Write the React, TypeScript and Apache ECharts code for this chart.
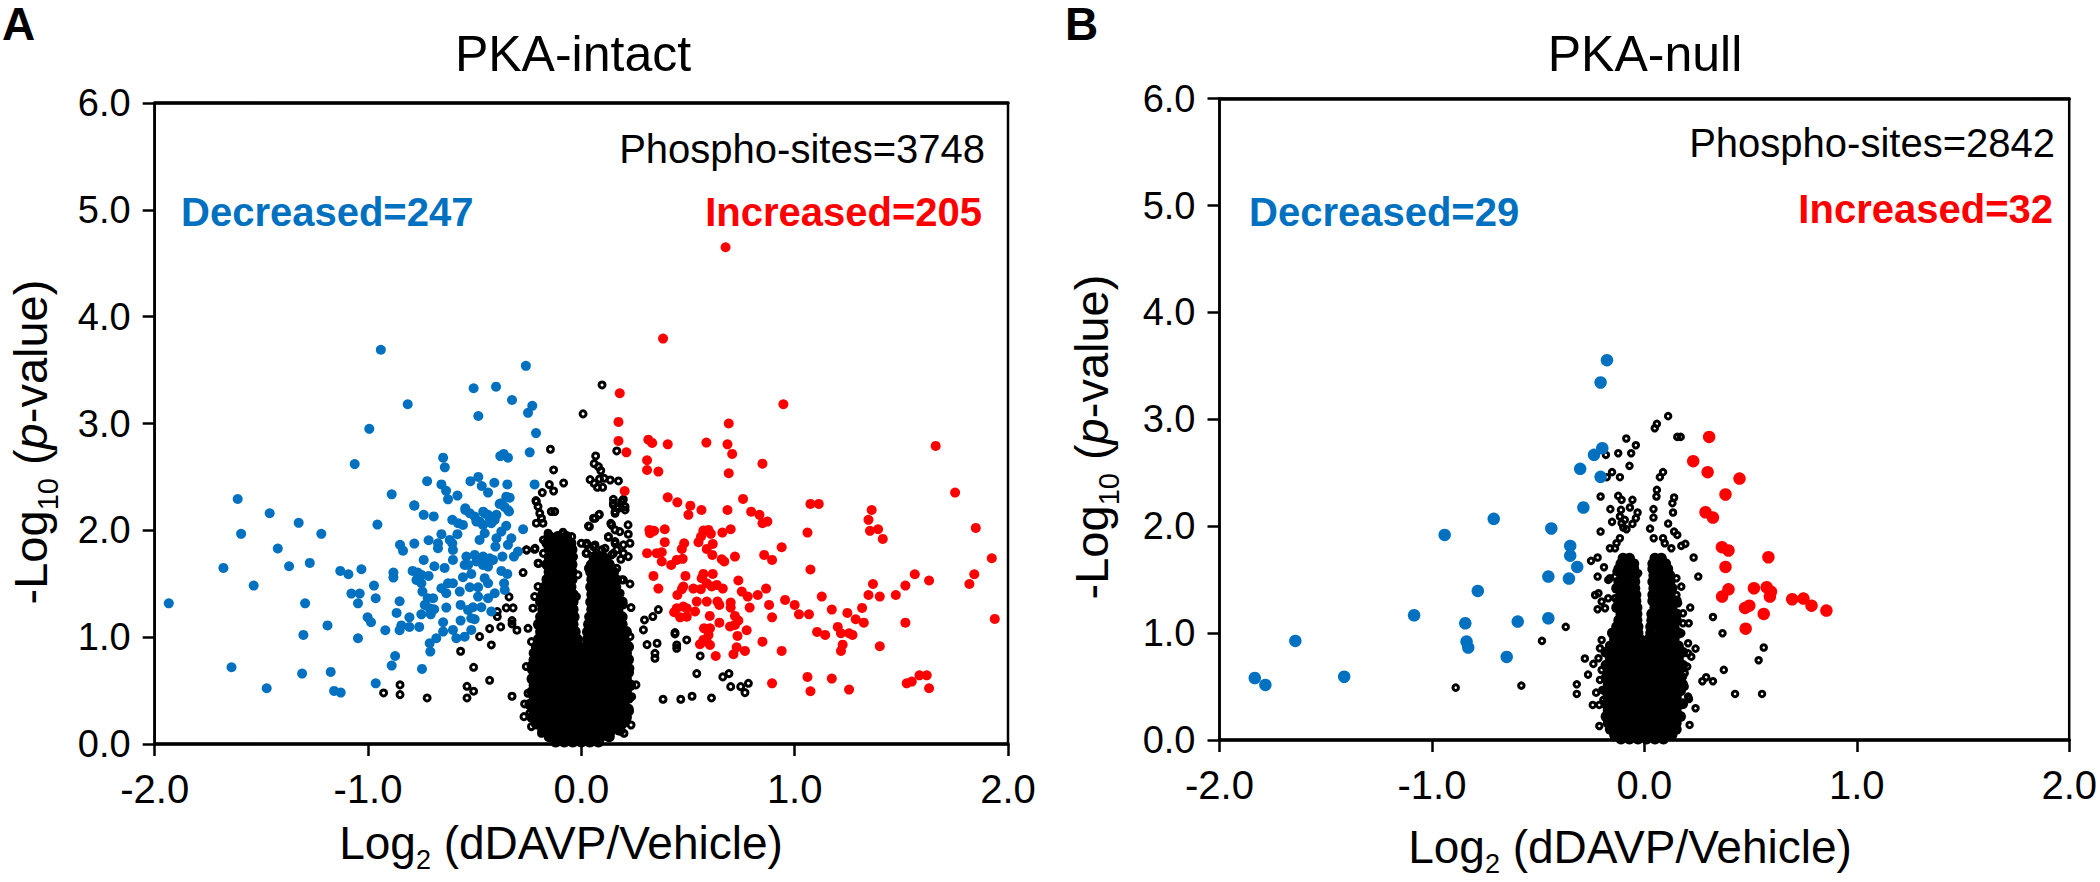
import React, { useEffect, useRef } from "react";
import * as echarts from "echarts";

const FONT = '"Liberation Sans", Arial, sans-serif';
const BLUE = "#0070C0";
const RED = "#FF0000";

const decreasedA: number[][] = [
[-0.94,3.69],[-0.26,3.54],[-0.505,3.33],[-0.4,3.345],[-0.325,3.22],[-0.23,3.165],[-0.25,3.1],[-0.483,3.07],[-0.814,3.18],[-0.994,2.95],[-1.0625,2.62],[-0.2125,2.91],[-0.242,2.73],[-0.364,2.715],[-0.38,2.695],[-0.344,2.68],[-0.648,2.68],[-0.64,2.59],[-0.723,2.46],[-0.483,2.5],[-0.52,2.46],[-0.467,2.415],[-0.408,2.445],[-0.347,2.43],[-0.219,2.43],[-0.656,2.43],[-0.634,2.37],[-0.581,2.325],[-0.625,2.29],[-0.4375,2.353],[-0.889,2.337],[-1.611,2.293],[-0.783,2.23],[-0.544,2.206],[-0.352,2.315],[-0.336,2.306],[-0.383,2.247],[-0.36,2.22],[-0.344,2.19],[-0.46,2.175],[-1.461,2.16],
[-1.325,2.07],[-1.595,1.967],[-1.219,1.967],[-0.956,2.054],[-1.423,1.83],[-1.678,1.648],[-1.37,1.664],[-1.273,1.695],[-1.536,1.483],[-1.934,1.317],[-1.295,1.317],[-1.303,1.021],[-1.19,1.11],[-1.64,0.718],[-1.475,0.522],[-1.309,0.659],[-1.175,0.675],[-1.159,0.497],[-1.128,0.481],[-0.964,0.568],[-0.889,0.734],[-0.873,0.824],[-0.747,0.703],[-1.047,0.99],[-0.919,1.065],[-1.13,1.62],[-1.092,1.589],[-1.031,1.636],[-0.972,1.483],[-0.964,1.364],[-1.078,1.408],[-1.039,1.408],[-1.047,1.317],[-1.002,1.186],[-0.986,1.14],[-0.852,1.336],[-0.866,1.227],[-0.806,1.186],[-0.844,1.11],[-0.852,1.065],[-0.806,1.096],[-0.76,1.096],[-0.881,1.605],[-0.881,1.558],[-0.85,1.864],[-0.836,1.81],[-0.783,1.876],[-0.739,2.145],[-0.692,2.13],[-0.783,2.235],[-0.739,1.723],[-0.791,1.62],[-0.767,1.605],[-0.75,1.583],[-0.773,1.536],[-0.75,1.505],[-0.716,1.573],[-0.745,1.427],[-0.72,1.364],[-0.695,1.364],[-0.734,1.302],[-0.711,1.271],[-0.75,1.214],[-0.706,1.214],[-0.69,1.261],[-0.689,1.664],[-0.641,1.648],[-0.716,1.907],[-0.672,1.879],[-0.656,1.964],[-0.672,1.832],[-0.605,1.879],[-0.617,1.91],[-0.581,1.964],[-0.602,1.817],[-0.605,2.098],[-0.578,2.067],[-0.555,2.051],[-0.544,2.191],[-0.523,2.16],
[-0.5,2.129],[-0.477,2.082],[-0.453,2.16],[-0.43,2.113],[-0.406,2.098],[-0.461,2.051],[-0.4375,2.145],[-0.492,2.082],[-0.453,1.973],[-0.477,1.91],[-0.398,2.145],[-0.422,2.066],[-0.375,2.254],[-0.339,2.176],[-0.352,2.042],[-0.375,1.988],[-0.398,1.926],[-0.328,1.926],[-0.344,1.864],[-0.403,1.848],[-0.273,2.01],[-0.297,1.801],[-0.316,1.754],[-0.37,1.754],
[-0.5,1.77],[-0.461,1.754],[-0.43,1.739],[-0.461,1.676],[-0.492,1.708],[-0.4375,1.661],[-0.414,1.723],[-0.539,1.754],[-0.547,1.676],[-0.602,1.723],[-0.531,1.676],[-0.375,1.62],[-0.347,1.592],[-0.362,1.505],[-0.359,1.442],[-0.516,1.592],[-0.555,1.561],[-0.453,1.552],[-0.4375,1.505],[-0.523,1.467],[-0.484,1.467],[-0.625,1.505],[-0.656,1.458],[-0.602,1.505],[-0.57,1.427],[-0.633,1.411],[-0.484,1.38],[-0.4375,1.364],[-0.406,1.411],[-0.566,1.302],[-0.633,1.277],[-0.531,1.255],[-0.508,1.28],[-0.469,1.28],[-0.422,1.24],[-0.566,1.155],[-0.516,1.177],[-0.5,1.168],[-0.648,1.14],[-0.648,1.052],[-0.602,1.068],[-0.586,0.99],[-0.547,1.005],[-0.516,1.068],[-0.711,0.943],[-0.68,0.99],[-0.708,0.865],
];

const increasedA: number[][] = [
[0.676,4.65],[0.383,3.795],[0.18,3.283],[0.947,3.18],[0.174,3.015],[0.691,3.0],[0.174,2.837],[0.314,2.849],[0.332,2.818],[0.405,2.805],[0.586,2.821],[0.685,2.805],[0.707,2.715],[0.211,2.73],[1.661,2.79],[0.308,2.656],[0.308,2.565],[0.361,2.55],[0.849,2.624],[0.691,2.534],[0.203,2.368],[0.405,2.309],[0.45,2.262],[0.511,2.231],[0.563,2.19],[0.685,2.19],[0.758,2.294],[1.074,2.247],[1.113,2.247],[1.361,2.19],[1.752,2.353],[0.796,2.175],
[0.502,2.145],[0.835,2.145],[0.872,2.082],[0.849,2.067],[1.346,2.098],[1.353,1.995],[1.391,2.01],[1.413,1.92],[1.06,1.979],[1.849,2.023],[1.924,1.739],[0.322,1.973],[0.341,1.995],[0.319,2.004],[0.391,2.01],[0.391,1.889],[0.482,1.879],[0.471,1.826],[0.308,1.786],[0.353,1.786],[0.377,1.795],[0.377,1.708],[0.421,1.676],[0.447,1.723],[0.475,1.733],[0.572,1.998],[0.596,2.004],[0.607,1.967],[0.561,1.942],[0.549,1.889],[0.661,1.979],[0.7,2.01],[0.616,1.873],[0.588,1.826],[0.614,1.77],[0.658,1.729],[0.67,1.708],[0.72,1.754],[0.857,1.77],[0.894,1.723],[0.939,1.842],[1.074,1.633],[0.338,1.573],[0.361,1.455],[0.488,1.573],[0.572,1.592],[0.564,1.552],[0.616,1.592],[0.478,1.474],[0.471,1.449],[0.525,1.455],[0.56,1.449],[0.588,1.505],[0.611,1.474],[0.635,1.489],[0.663,1.455],[0.45,1.395],[0.736,1.53],[0.752,1.427],[0.78,1.38],[0.827,1.395],[0.866,1.455],[0.541,1.333],[0.588,1.333],[0.638,1.333],[0.647,1.302],[0.7,1.324],[0.7,1.277],[0.88,1.302],[0.789,1.277],[0.447,1.271],[0.435,1.233],[0.478,1.286],[0.494,1.271],[0.463,1.186],[0.494,1.192],[0.533,1.24],[0.602,1.199],[0.647,1.136],[0.894,1.186],[0.72,1.199],[0.736,1.155],[0.72,1.115],[0.697,1.1],[0.575,1.083],[0.603,1.083],[0.596,1.021],[0.775,1.065],[0.732,1.012],[0.849,0.958],[0.572,0.974],[0.556,0.934],[0.603,0.927],[0.588,0.958],[0.63,0.824],[0.713,0.84],[0.728,0.905],[0.767,0.871],[0.939,0.871],[0.955,1.349],[1.0,1.302],[1.02,1.214],[1.067,1.214],[1.127,1.38],[1.174,1.258],[1.247,1.227],[1.286,1.168],[1.324,1.136],[1.316,1.274],[1.346,1.395],[1.399,1.38],[1.367,1.498],[1.474,1.395],[1.519,1.483],[1.563,1.589],[1.63,1.53],[1.819,1.498],[1.842,1.589],[1.938,1.171],[1.519,1.136],[1.105,1.049],[1.143,1.021],[1.202,1.096],[1.217,1.037],[1.255,1.037],[1.271,1.021],[1.225,0.93],[1.217,0.871],[1.399,0.915],[0.894,0.568],[1.06,0.628],[1.174,0.612],[1.074,0.494],[1.255,0.509],[1.525,0.568],[1.549,0.584],[1.585,0.643],[1.619,0.643],[1.63,0.522],
];

const ringsA: number[][] = [
[-0.927,0.478],[-0.85,0.553],[-0.85,0.462],[-0.723,0.431],[-0.536,0.54],[-0.505,0.494],[-0.536,0.431],[-0.43,0.596],[-0.505,0.718],[-0.566,0.868],[-0.325,0.447],[-0.477,1.005],[-0.422,0.927],[-0.43,1.08],[-0.378,1.096],[-0.302,1.065],[-0.325,1.155],[-0.325,1.124],[-0.339,1.377],[-0.352,1.274],[-0.32,1.274],[-0.394,1.24],[-0.394,1.193],[-0.273,1.605],[-0.258,1.817],[-0.219,1.823],[-0.211,2.067],[-0.18,2.067],[-0.187,2.113],[-0.195,2.16],[-0.203,2.223],[-0.211,2.27],[-0.141,2.176],[-0.125,2.176],[-0.145,2.759],[-0.13,2.565],[-0.083,2.443],[-0.15,2.428],[-0.13,2.368],[-0.183,2.353],[-0.213,2.278],[0.008,3.09],[0.097,3.361],[0.166,2.743],[0.067,2.696],[0.06,2.624],[0.08,2.596],[0.091,2.559],[0.041,2.475],[0.06,2.44],[0.075,2.403],[0.1,2.403],[0.085,2.481],[0.107,2.487],[0.135,2.471],[0.174,2.462],[0.15,2.29],[0.197,2.29],[0.15,2.237],[0.205,2.222],[0.166,2.215],[0.083,2.145],[0.057,2.113],[0.038,2.035],[0.158,2.16],[0.205,2.191],[0.15,2.254],[0.19,2.27],[0.138,2.066],[0.219,2.051],[0.18,1.988],[0.158,2.004],[0.22,1.964],[0.127,1.935],[0.228,1.879],[0.197,1.864],[0.158,1.895],[0.166,1.817],[0.197,1.786],[0.22,1.754],[0.185,1.729],[0.142,1.77],[0.228,1.498],[0.233,1.277],[0.228,0.709],[0.256,0.553],[0.236,0.443],[0.224,0.334],[0.233,0.178],[0.2,0.1],[0.197,1.037],[0.228,1.005],[0.213,0.943],[0.189,1.536],[0.166,1.645],[0.182,1.411],[0.197,1.302],[0.189,0.787],[0.197,0.693],[0.361,1.258],[0.335,1.193],[0.296,1.161],[0.291,1.068],[0.308,0.93],[0.355,0.943],[0.345,0.849],[0.345,0.802],[0.439,1.043],[0.439,1.03],[0.447,0.927],[0.447,0.896],[0.494,0.974],[0.557,0.824],[0.541,0.659],[0.663,0.628],[0.692,0.659],[0.7,0.537],[0.747,0.537],[0.783,0.568],[0.767,0.481],[0.383,0.419],[0.466,0.419],[0.519,0.447],[0.61,0.431],
[-0.155,1.957],[-0.084,1.972],[-0.045,1.941],[-0.178,1.91],[-0.116,1.879],[-0.053,1.894],[-0.178,1.785],[-0.116,1.77],[-0.061,1.785],[-0.2,1.691],[-0.139,1.676],[-0.037,1.754],[-0.084,1.676],[-0.256,1.816],[-0.217,1.832],[0.025,1.863],[0.064,1.863],[0.158,1.879],[0.022,1.785],[0.072,1.785],[0.111,1.832],[0.15,1.785],[0.088,1.691],[0.041,1.676],[0.127,1.941],[0.142,2.05],[0.033,2.04],[0.064,2.113],[0.084,2.15],[0.173,2.206],[0.158,2.175],
[-0.25,1.083],[-0.234,0.958],[-0.258,0.725],[-0.227,0.787],[-0.25,0.475],[-0.266,0.375],[-0.269,0.256],[-0.234,0.163],[-0.187,0.1],[-0.219,1.38],[-0.227,1.271],[-0.203,1.692],[-0.203,1.474],[-0.234,0.693],[-0.219,0.6],[-0.19,0.584],[-0.242,0.288],[-0.156,1.973],[-0.086,1.982],[-0.0625,1.801],[-0.039,1.754],[-0.039,1.333],[0.0,1.879],[-0.016,1.583],[-0.055,1.567],[-0.023,1.38],[0.025,1.879],[0.057,1.848],[0.096,1.817],[0.025,1.786],[0.072,1.754],[0.119,1.723],[0.033,1.645],[0.088,1.614],[0.15,1.583],[0.197,1.536],
];

// [y, x, x, ...]: the part of the cloud where rings overlap into solid black
const coreRowsA: number[][] = [
[1.94,-0.15,-0.11,-0.07],[1.88,-0.16,-0.12,-0.08,-0.05],[1.82,-0.15,-0.11,-0.07,-0.045],[1.75,-0.15,-0.11,-0.07,-0.045,0.06,0.1],[1.68,-0.16,-0.12,-0.08,-0.045,0.05,0.09,0.13],[1.61,-0.15,-0.11,-0.07,-0.045,0.045,0.08,0.12,0.15],[1.54,-0.16,-0.12,-0.08,-0.045,0.05,0.09,0.13,0.16],[1.47,-0.17,-0.13,-0.09,-0.05,0.045,0.08,0.12,0.16],[1.4,-0.18,-0.14,-0.1,-0.06,-0.04,0.05,0.09,0.13,0.17],[1.33,-0.19,-0.15,-0.11,-0.07,-0.04,0.045,0.08,0.12,0.16,0.19],[1.26,-0.18,-0.14,-0.1,-0.06,-0.04,0.05,0.09,0.13,0.17],[1.19,-0.19,-0.15,-0.11,-0.07,-0.035,0.04,0.08,0.12,0.16,0.19],[1.12,-0.2,-0.16,-0.12,-0.08,-0.04,0.035,0.07,0.11,0.15,0.19],[1.05,-0.19,-0.15,-0.11,-0.07,-0.03,0.03,0.06,0.1,0.14,0.18,0.21],[0.98,-0.2,-0.16,-0.12,-0.08,-0.04,-0.02,0.03,0.05,0.09,0.13,0.17,0.2],
[0.91,-0.21,-0.17,-0.13,-0.09,-0.05,-0.01,0.03,0.07,0.11,0.15,0.19,0.22],[0.85,-0.22,-0.18,-0.14,-0.1,-0.06,-0.02,0.02,0.06,0.1,0.14,0.18,0.21],[0.79,-0.21,-0.17,-0.13,-0.09,-0.05,-0.01,0.03,0.07,0.11,0.15,0.19,0.22],[0.73,-0.23,-0.19,-0.15,-0.11,-0.07,-0.03,0.01,0.05,0.09,0.13,0.17,0.21],[0.67,-0.22,-0.18,-0.14,-0.1,-0.06,-0.02,0.02,0.06,0.1,0.14,0.18,0.22],[0.61,-0.23,-0.19,-0.15,-0.11,-0.07,-0.03,0.01,0.05,0.09,0.13,0.17,0.21],[0.55,-0.22,-0.18,-0.14,-0.1,-0.06,-0.02,0.02,0.06,0.1,0.14,0.18,0.23],[0.49,-0.23,-0.19,-0.15,-0.11,-0.07,-0.03,0.01,0.05,0.09,0.13,0.17,0.21],[0.43,-0.22,-0.18,-0.14,-0.1,-0.06,-0.02,0.02,0.06,0.1,0.14,0.18,0.22],[0.37,-0.24,-0.2,-0.16,-0.12,-0.08,-0.04,0.0,0.04,0.08,0.12,0.16,0.2],[0.31,-0.22,-0.18,-0.14,-0.1,-0.06,-0.02,0.02,0.06,0.1,0.14,0.18,0.22],[0.25,-0.23,-0.19,-0.15,-0.11,-0.07,-0.03,0.01,0.05,0.09,0.13,0.17,0.21],[0.19,-0.21,-0.17,-0.13,-0.09,-0.05,-0.01,0.03,0.07,0.11,0.15,0.19],[0.13,-0.18,-0.14,-0.1,-0.06,-0.02,0.02,0.06,0.1,0.14,0.18],[0.07,-0.15,-0.11,-0.07,-0.03,0.01,0.05,0.09,0.13],[0.02,-0.12,-0.08,-0.04,0.0,0.04,0.08],
];

const decreasedB: number[][] = [
[-0.176,3.554],[-0.206,3.345],[-0.198,2.73],[-0.237,2.668],[-0.302,2.537],[-0.206,2.462],[-0.287,2.175],[-0.709,2.069],[-0.94,1.919],[-0.438,1.979],[-0.349,1.816],[-0.349,1.725],[-0.316,1.619],[-0.452,1.529],[-0.355,1.51],[-0.784,1.395],[-1.084,1.167],[-0.843,1.092],[-0.596,1.108],[-0.452,1.139],[-0.837,0.921],[-0.829,0.865],[-0.648,0.777],[-1.643,0.927],[-1.834,0.58],[-1.784,0.515],[-1.413,0.592],
];

const increasedB: number[][] = [
[0.305,2.836],[0.23,2.609],[0.298,2.506],[0.448,2.446],[0.382,2.297],[0.288,2.131],[0.323,2.081],[0.365,1.804],[0.396,1.773],[0.382,1.619],[0.584,1.71],[0.396,1.41],[0.366,1.342],[0.516,1.42],[0.576,1.429],[0.596,1.388],[0.591,1.342],[0.696,1.317],[0.749,1.323],[0.787,1.257],[0.857,1.211],[0.494,1.257],[0.474,1.236],[0.562,1.18],[0.477,1.042],
];

const ringsB: number[][] = [
[0.112,3.03],[0.059,2.958],[0.049,2.917],[0.155,2.836],[0.171,2.836],[-0.085,2.821],[-0.04,2.758],[-0.123,2.683],[-0.181,2.668],[-0.062,2.683],[-0.07,2.565],[-0.152,2.506],[-0.115,2.459],[-0.177,2.459],[0.088,2.506],[0.073,2.459],[0.059,2.34],[0.057,2.278],[0.14,2.269],[0.132,2.216],[0.135,2.128],[0.043,2.16],[0.043,2.081],[0.112,2.025],[0.027,1.978],[0.14,1.95],[0.155,1.919],[-0.206,2.278],[-0.123,2.284],[-0.107,2.247],[-0.056,2.247],[-0.16,2.16],[-0.11,2.153],[-0.068,2.175],[-0.032,2.128],[-0.115,2.091],[-0.092,2.06],[-0.04,2.075],[-0.152,2.041],[-0.107,2.028],[-0.056,2.022],[-0.099,1.988],[-0.084,1.972],[-0.206,1.95],[-0.115,1.888],[-0.131,1.841],[-0.162,1.794],[-0.138,1.794],[0.044,1.888],[0.088,1.888],[0.096,1.841],[0.127,1.794],[0.174,1.816],[0.193,1.835],
[0.232,1.707],[0.254,1.529],[-0.22,1.707],[-0.251,1.676],[-0.19,1.616],[-0.22,1.529],[-0.162,1.513],[-0.138,1.529],[-0.216,1.373],[-0.232,1.357],[-0.17,1.326],[-0.201,1.295],[-0.22,1.223],[-0.185,1.233],[0.216,1.239],[0.209,1.092],[0.323,1.151],[0.368,0.999],[-0.37,1.058],[-0.482,0.927],[0.562,0.865],[0.538,0.746],[0.374,0.656],[0.241,0.855],[0.221,0.78],[0.202,0.687],[0.19,0.624],[-0.28,0.762],[-0.24,0.712],[-0.265,0.612],[0.291,0.587],[0.273,0.55],[0.323,0.55],[-0.888,0.49],[-0.579,0.509],[-0.318,0.521],[-0.318,0.431],[-0.227,0.443],[-0.243,0.328],[-0.212,0.328],[0.21,0.384],[0.241,0.297],[0.427,0.431],[0.554,0.431],[-0.212,0.131],[0.213,0.141],
[-0.201,0.936],[-0.209,0.858],[-0.216,0.765],[-0.201,0.655],[-0.209,0.562],[-0.198,0.468],[-0.193,0.375],[0.206,0.406],[0.19,0.5],[0.182,0.593],[0.182,0.687],[0.206,0.811],[0.206,0.905],[0.174,0.999],[0.182,1.092],[0.182,1.186],[0.159,1.279],[0.151,1.357],[0.174,1.435],[0.151,1.513],[-0.131,1.576],[-0.17,1.498],[-0.138,1.326],[-0.029,1.56],
];

const coreRowsB: number[][] = [
[1.7,-0.1,-0.07,0.05,0.08],[1.65,-0.11,-0.07,-0.05,0.04,0.07,0.1],[1.6,-0.12,-0.08,-0.05,0.04,0.08,0.11],[1.54,-0.1,-0.07,-0.045,0.045,0.09,0.12],[1.48,-0.12,-0.08,-0.045,0.04,0.08,0.12],[1.42,-0.13,-0.09,-0.045,0.045,0.09,0.13],[1.36,-0.11,-0.07,-0.04,0.04,0.08,0.12],[1.3,-0.12,-0.08,-0.04,0.04,0.07,0.11,0.15],[1.24,-0.13,-0.09,-0.05,-0.035,0.05,0.09,0.13],[1.18,-0.11,-0.07,-0.035,0.035,0.07,0.11,0.15],[1.12,-0.12,-0.08,-0.035,0.035,0.08,0.12,0.15],[1.06,-0.13,-0.09,-0.05,-0.03,0.03,0.07,0.11,0.14],[1.0,-0.15,-0.11,-0.07,-0.03,0.03,0.08,0.12,0.16],[0.94,-0.14,-0.1,-0.06,-0.02,0.02,0.06,0.1,0.14],
[0.88,-0.16,-0.12,-0.08,-0.04,0.0,0.04,0.08,0.12,0.16],[0.82,-0.18,-0.14,-0.1,-0.06,-0.02,0.02,0.06,0.1,0.14,0.18],[0.76,-0.16,-0.12,-0.08,-0.04,0.0,0.04,0.08,0.12,0.16],[0.7,-0.18,-0.14,-0.1,-0.06,-0.02,0.02,0.06,0.1,0.14,0.18],[0.64,-0.17,-0.13,-0.09,-0.05,-0.01,0.03,0.07,0.11,0.15],[0.58,-0.18,-0.14,-0.1,-0.06,-0.02,0.02,0.06,0.1,0.14,0.17],[0.52,-0.17,-0.13,-0.09,-0.05,-0.01,0.03,0.07,0.11,0.15,0.18],[0.46,-0.18,-0.14,-0.1,-0.06,-0.02,0.02,0.06,0.1,0.14,0.17],[0.4,-0.17,-0.13,-0.09,-0.05,-0.01,0.03,0.07,0.11,0.15],[0.34,-0.18,-0.14,-0.1,-0.06,-0.02,0.02,0.06,0.1,0.14,0.18],[0.28,-0.17,-0.13,-0.09,-0.05,-0.01,0.03,0.07,0.11,0.15],[0.22,-0.18,-0.14,-0.1,-0.06,-0.02,0.02,0.06,0.1,0.14,0.17],[0.16,-0.17,-0.13,-0.09,-0.05,-0.01,0.03,0.07,0.11,0.15],[0.1,-0.16,-0.12,-0.08,-0.04,0.0,0.04,0.08,0.12,0.15],[0.05,-0.14,-0.1,-0.06,-0.02,0.02,0.06,0.1,0.13],[0.01,-0.11,-0.07,-0.03,0.01,0.05,0.09],
];

const expandRows = (rows: number[][]) =>
  rows.flatMap((r) => r.slice(1).map((x) => [x, r[0]]));

const axisPair = (gridIndex: number) => [
  {
    type: "value", gridIndex, min: -2, max: 2, interval: 1, position: "bottom",
    axisLine: { show: true, onZero: false, lineStyle: { color: "#000", width: 3.5 } },
    axisTick: { show: true, length: 12, lineStyle: { color: "#000", width: 2.5 } },
    axisLabel: { fontSize: 40, fontFamily: FONT, color: "#000", margin: 25, formatter: (v: number) => v.toFixed(1) },
    splitLine: { show: false },
  },
  {
    type: "value", gridIndex, min: -2, max: 2, interval: 1, position: "top",
    axisLine: { show: true, onZero: false, lineStyle: { color: "#000", width: 3.5 } },
    axisTick: { show: false }, axisLabel: { show: false }, splitLine: { show: false },
  },
];

const yAxisFor = (gridIndex: number) => ({
  type: "value", gridIndex, min: 0, max: 6, interval: 1,
  axisLine: { show: true, onZero: false, lineStyle: { color: "#000", width: 2.5 } },
  axisTick: { show: true, length: 12, lineStyle: { color: "#000", width: 2.5 } },
  axisLabel: { fontSize: 38, fontFamily: FONT, color: "#000", margin: 24, formatter: (v: number) => v.toFixed(1) },
  splitLine: { show: false },
});

const panelSeries = (
  xAxisIndex: number, yAxisIndex: number, core: number[][], rings: number[][],
  dec: number[][], inc: number[][], dot: number, ring: number, names: string,
) => {
  const common = { type: "scatter", xAxisIndex, yAxisIndex, clip: false, silent: true };
  return [
    { ...common, name: names + " core", data: expandRows(core), symbolSize: ring + 5.5, itemStyle: { color: "#000", opacity: 1 }, z: 2 },
    { ...common, name: names + " unchanged", data: rings, symbolSize: ring, itemStyle: { color: "rgba(0,0,0,0)", borderColor: "#000", borderWidth: 3, opacity: 1 }, z: 2 },
    { ...common, name: names + " decreased", data: dec, symbolSize: dot, itemStyle: { color: BLUE, opacity: 1 }, z: 3 },
    { ...common, name: names + " increased", data: inc, symbolSize: dot, itemStyle: { color: RED, opacity: 1 }, z: 3 },
  ];
};

const txt = (text: string, x: number, y: number, fontSize: number, fill: string, align: string, fontWeight = "normal") => ({
  type: "text", x, y, silent: true,
  style: { text, fontSize, fontFamily: FONT, fill, align, verticalAlign: "middle", fontWeight },
});

const xTitle = (x: number, y: number) => ({
  type: "text", x, y, silent: true,
  style: {
    text: "Log{sub|2} (dDAVP/Vehicle)", fontSize: 46, fontFamily: FONT, fill: "#000", align: "center", verticalAlign: "middle",
    rich: { sub: { fontSize: 27, fontFamily: FONT, fill: "#000", verticalAlign: "bottom", padding: [34, 0, 0, 0] } },
  },
});

const yTitle = (x: number, y: number) => ({
  type: "text", x, y, rotation: Math.PI / 2, silent: true,
  style: {
    text: "-Log{sub|10} ({it|p}-value)", fontSize: 47, fontFamily: FONT, fill: "#000", align: "center", verticalAlign: "middle",
    rich: {
      sub: { fontSize: 29, fontFamily: FONT, fill: "#000", verticalAlign: "bottom", padding: [36, 0, 0, 0] },
      it: { fontSize: 47, fontFamily: FONT, fontStyle: "italic", fill: "#000" },
    },
  },
});

export default function App() {
  const ref = useRef<HTMLDivElement>(null);
  useEffect(() => {
    const chart = echarts.init(ref.current!, null, { renderer: "svg" });
    chart.setOption({
      animation: false,
      backgroundColor: "#fff",
      title: [
        { text: "PKA-intact", left: 568, top: 24, textAlign: "center", textStyle: { fontSize: 50, fontWeight: "normal", fontFamily: FONT, color: "#000" } },
        { text: "PKA-null", left: 1640, top: 24, textAlign: "center", textStyle: { fontSize: 50, fontWeight: "normal", fontFamily: FONT, color: "#000" } },
      ],
      grid: [
        { left: 154.7, top: 103, width: 853.3, height: 641, show: true, borderColor: "#000", borderWidth: 2.5, containLabel: false },
        { left: 1219.5, top: 98.7, width: 853.3, height: 641.3, show: true, borderColor: "#000", borderWidth: 2.5, containLabel: false },
      ],
      xAxis: [...axisPair(0), ...axisPair(1)],
      yAxis: [yAxisFor(0), yAxisFor(1)],
      series: [
        ...panelSeries(0, 0, coreRowsA, ringsA, decreasedA, increasedA, 10, 6, "PKA-intact"),
        ...panelSeries(2, 1, coreRowsB, ringsB, decreasedB, increasedB, 12.5, 5.5, "PKA-null"),
      ],
      graphic: [
        txt("A", 2, 24, 46, "#000", "left", "bold"),
        txt("B", 1065, 24, 46, "#000", "left", "bold"),
        txt("Phospho-sites=3748", 985, 149, 40, "#000", "right"),
        txt("Decreased=247", 181, 212, 40, BLUE, "left", "bold"),
        txt("Increased=205", 982, 212, 40, RED, "right", "bold"),
        txt("Phospho-sites=2842", 2055, 143, 40, "#000", "right"),
        txt("Decreased=29", 1249, 212, 40, BLUE, "left", "bold"),
        txt("Increased=32", 2053, 209, 40, RED, "right", "bold"),
        xTitle(561, 843),
        xTitle(1630, 847),
        yTitle(30, 442),
        yTitle(1091, 437),
      ],
    });
    return () => chart.dispose();
  }, []);
  return <div ref={ref} style={{ position: "absolute", left: 0, top: 0, width: 2100, height: 882 }} />;
}
